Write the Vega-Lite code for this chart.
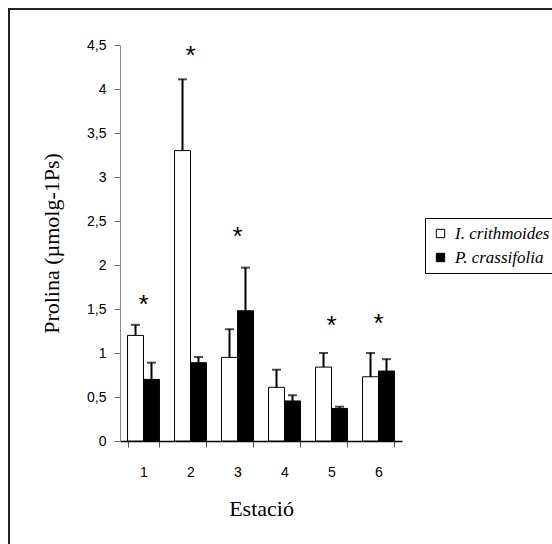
{
  "$schema": "https://vega.github.io/schema/vega-lite/v6.json",
  "autosize": {"type": "none"},
  "padding": {"left": 9, "top": 9, "right": 0, "bottom": 0},
  "width": 580,
  "height": 570,
  "background": "white",
  "config": {
    "view": {"stroke": "#222", "strokeWidth": 2},
    "font": "Liberation Sans"
  },
  "datasets": {
    "bars": [
      {"station": "1", "species": "I. crithmoides", "mean": 1.20, "upper": 1.32},
      {"station": "1", "species": "P. crassifolia", "mean": 0.70, "upper": 0.89},
      {"station": "2", "species": "I. crithmoides", "mean": 3.30, "upper": 4.11},
      {"station": "2", "species": "P. crassifolia", "mean": 0.89, "upper": 0.955},
      {"station": "3", "species": "I. crithmoides", "mean": 0.95, "upper": 1.27},
      {"station": "3", "species": "P. crassifolia", "mean": 1.48, "upper": 1.97},
      {"station": "4", "species": "I. crithmoides", "mean": 0.61, "upper": 0.81},
      {"station": "4", "species": "P. crassifolia", "mean": 0.455, "upper": 0.52},
      {"station": "5", "species": "I. crithmoides", "mean": 0.84, "upper": 1.0},
      {"station": "5", "species": "P. crassifolia", "mean": 0.37, "upper": 0.39},
      {"station": "6", "species": "I. crithmoides", "mean": 0.73, "upper": 1.0},
      {"station": "6", "species": "P. crassifolia", "mean": 0.795, "upper": 0.93}
    ],
    "stars": [
      {"station": "1", "y": 1.60, "label": "*"},
      {"station": "2", "y": 4.43, "label": "*"},
      {"station": "3", "y": 2.38, "label": "*"},
      {"station": "5", "y": 1.36, "label": "*"},
      {"station": "6", "y": 1.39, "label": "*"}
    ]
  },
  "encoding": {
    "x": {
      "field": "station", "type": "nominal",
      "scale": {"domain": ["1","2","3","4","5","6"], "range": [111, 393], "paddingInner": 0.32, "paddingOuter": 0.16},
      "axis": {
        "title": "Estació", "labelAngle": 0, "offset": -138, "tickBand": "extent",
        "domainColor": "#000", "domainWidth": 1.5, "tickColor": "#555", "tickSize": 6,
        "labelFont": "Liberation Sans", "labelFontSize": 14, "labelColor": "#000", "labelPadding": 18,
        "titleFont": "Liberation Serif", "titleFontSize": 22, "titleFontWeight": "normal", "titleColor": "#000", "titlePadding": 19
      }
    }
  },
  "layer": [
    {
      "data": {"name": "bars"},
      "mark": {"type": "bar", "stroke": "#000", "strokeWidth": 1},
      "encoding": {
        "xOffset": {"field": "species", "type": "nominal", "scale": {"paddingInner": 0, "paddingOuter": 0}},
        "y": {
          "field": "mean", "type": "quantitative",
          "scale": {"domain": [0, 4.5], "range": [432, 36], "nice": false, "zero": true},
          "axis": {
            "title": "Prolina (µmolg-1Ps)", "values": [0, 0.5, 1, 1.5, 2, 2.5, 3, 3.5, 4, 4.5],
            "labelExpr": "replace(toString(datum.value), '.', ',')",
            "offset": -111, "grid": false, "domainColor": "#888", "tickColor": "#666", "tickSize": 6,
            "labelFont": "Liberation Sans", "labelFontSize": 14, "labelColor": "#000", "labelPadding": 8,
            "titleFont": "Liberation Serif", "titleFontSize": 22, "titleFontWeight": "normal", "titleColor": "#000", "titlePadding": 23
          }
        },
        "fill": {
          "field": "species", "type": "nominal",
          "scale": {"domain": ["I. crithmoides", "P. crassifolia"], "range": ["#ffffff", "#000000"]},
          "legend": {
            "title": null, "orient": "none", "legendX": 416, "legendY": 209,
            "strokeColor": "#000", "padding": 7, "symbolType": "square", "symbolSize": 70,
            "symbolStrokeColor": "#000", "symbolStrokeWidth": 1,
            "labelFont": "Liberation Serif", "labelFontStyle": "italic", "labelFontSize": 17, "labelColor": "#000",
            "rowPadding": 6, "labelOffset": 6, "labelLimit": 200
          }
        }
      }
    },
    {
      "data": {"name": "bars"},
      "mark": {"type": "rule", "color": "#000", "strokeWidth": 2},
      "encoding": {
        "xOffset": {"field": "species", "type": "nominal"},
        "y": {"field": "mean", "type": "quantitative"},
        "y2": {"field": "upper"}
      }
    },
    {
      "data": {"name": "bars"},
      "mark": {"type": "tick", "color": "#000", "thickness": 2, "size": 9, "orient": "horizontal"},
      "encoding": {
        "xOffset": {"field": "species", "type": "nominal"},
        "y": {"field": "upper", "type": "quantitative"}
      }
    },
    {
      "data": {"name": "stars"},
      "mark": {"type": "text", "font": "Liberation Sans", "fontSize": 26, "baseline": "middle", "color": "#000", "dy": 5},
      "encoding": {
        "y": {"field": "y", "type": "quantitative"},
        "text": {"field": "label"}
      }
    }
  ]
}
